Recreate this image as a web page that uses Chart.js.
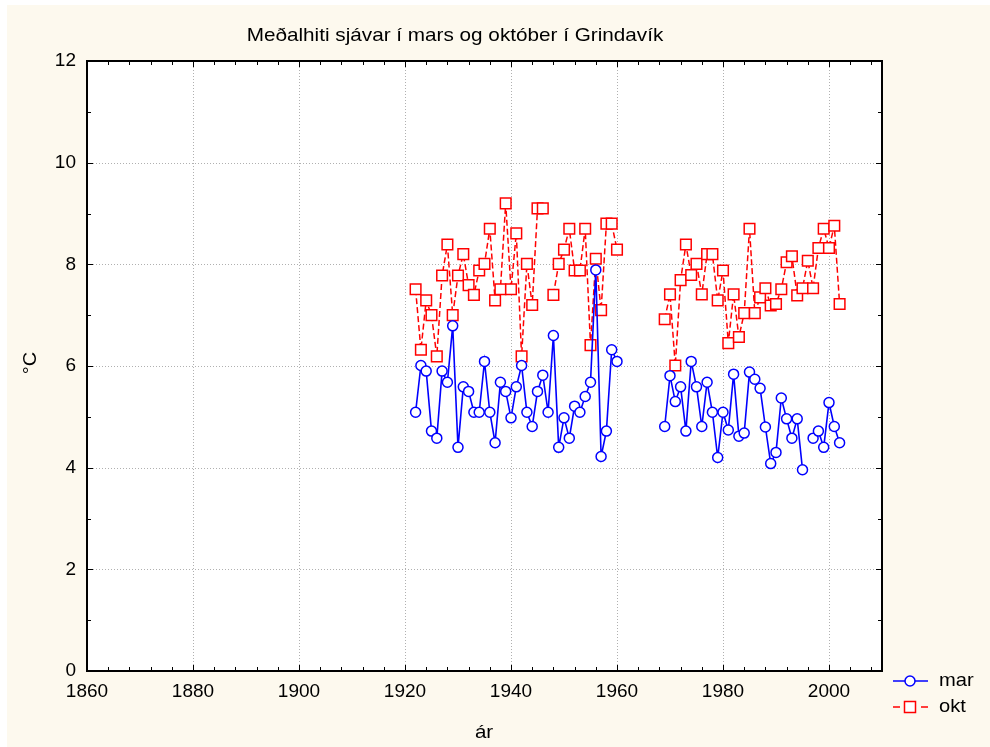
<!DOCTYPE html>
<html><head><meta charset="utf-8">
<script src="https://cdn.jsdelivr.net/npm/chart.js@4.4.1/dist/chart.umd.min.js"></script>
<style>html,body{margin:0;padding:0;background:#fff}canvas{display:block}</style>
</head><body>
<canvas id="c" width="990" height="747"></canvas>
<script>
const titleText = 'Meðalhiti sjávar í mars og október í Grindavík';
const xAxisTitle = 'ár';
const yAxisTitle = '°C';
const seriesNames = ['mar', 'okt'];
const years = [1922,1923,1924,1925,1926,1927,1928,1929,1930,1931,1932,1933,1934,1935,1936,1937,1938,1939,1940,1941,1942,1943,1944,1945,1946,1947,1948,1949,1950,1951,1952,1953,1954,1955,1956,1957,1958,1959,1960,
  1961,1962,1963,1964,1965,1966,1967,1968,
  1969,1970,1971,1972,1973,1974,1975,1976,1977,1978,1979,1980,1981,1982,1983,1984,1985,1986,1987,1988,1989,1990,1991,1992,1993,1994,1995,1996,1997,1998,1999,2000,2001,2002];
const marValues = [5.09,6.01,5.90,4.72,4.58,5.90,5.68,6.79,4.40,5.59,5.50,5.09,5.09,6.09,5.09,4.49,5.68,5.50,4.98,5.59,6.01,5.09,4.81,5.50,5.82,5.09,6.60,4.40,4.98,4.58,5.21,5.09,5.40,5.68,7.89,4.22,4.72,6.32,6.09,
  null,null,null,null,null,null,null,null,
  4.81,5.81,5.30,5.59,4.72,6.09,5.59,4.81,5.68,5.09,4.20,5.09,4.74,5.84,4.62,4.68,5.88,5.74,5.56,4.80,4.08,4.30,5.37,4.96,4.58,4.96,3.96,null,4.58,4.72,4.40,5.28,4.81,4.49];
const oktValues = [7.51,6.32,7.29,7.00,6.19,7.78,8.39,7.00,7.78,8.20,7.59,7.40,7.88,8.01,8.70,7.29,7.51,9.20,7.51,8.61,6.19,8.01,7.20,9.10,9.10,null,7.40,8.01,8.29,8.70,7.88,7.88,8.70,6.41,8.11,7.10,8.80,8.80,8.29,
  null,null,null,null,null,null,null,null,
  6.92,7.41,6.01,7.69,8.39,7.79,8.01,7.41,8.20,8.20,7.29,7.88,6.45,7.41,6.57,7.04,8.70,7.04,7.35,7.53,7.19,7.22,7.51,8.04,8.16,7.39,7.53,8.07,7.53,8.32,8.70,8.32,8.76,7.22];
const xTickValues = [1860,1880,1900,1920,1940,1960,1980,2000];
const yTickValues = [0,2,4,6,8,10,12];

const FONT = "'Liberation Sans', Arial, sans-serif";
Chart.defaults.font.family = FONT;

function stretchedText(ctx, text, x, y, size, sx, align) {
  ctx.save();
  ctx.font = size + 'px ' + FONT;
  ctx.textBaseline = 'middle';
  const w = ctx.measureText(text).width * sx;
  let left = x;
  if (align === 'center') left = x - w / 2;
  ctx.translate(left, y);
  ctx.scale(sx, 1);
  ctx.textAlign = 'left';
  ctx.fillText(text, 0, 0);
  ctx.restore();
}

const decorPlugin = {
  id: 'decor',
  beforeDraw(chart) {
    const { ctx, chartArea: a } = chart;
    const xs = chart.scales.x, ys = chart.scales.y;
    ctx.save();
    ctx.fillStyle = '#ffffff'; ctx.fillRect(0, 0, 990, 747);
    ctx.fillStyle = '#fdf9ee'; ctx.fillRect(7, 5, 983, 742);
    ctx.fillStyle = '#ffffff'; ctx.fillRect(a.left, a.top, a.right - a.left, a.bottom - a.top);
    ctx.strokeStyle = '#b0b0b0'; ctx.lineWidth = 1; ctx.setLineDash([1, 2]);
    xTickValues.forEach(v => {
      const px = Math.round(xs.getPixelForValue(v)) + 0.5;
      if (px > a.left + 3 && px < a.right - 3) { ctx.beginPath(); ctx.moveTo(px, a.top); ctx.lineTo(px, a.bottom); ctx.stroke(); }
    });
    yTickValues.forEach(v => {
      const py = Math.round(ys.getPixelForValue(v)) + 0.5;
      if (py > a.top + 3 && py < a.bottom - 3) { ctx.beginPath(); ctx.moveTo(a.left, py); ctx.lineTo(a.right, py); ctx.stroke(); }
    });
    ctx.restore();
  },
  afterDraw(chart) {
    const { ctx, chartArea: a } = chart;
    const xs = chart.scales.x, ys = chart.scales.y;
    ctx.save();
    // frame
    ctx.strokeStyle = '#000'; ctx.lineWidth = 2; ctx.setLineDash([]);
    ctx.strokeRect(a.left, a.top, a.right - a.left, a.bottom - a.top);
    // tick marks (inward, all sides)
    ctx.lineWidth = 1;
    ctx.beginPath();
    for (let v = 1860; v <= 2010; v += 4) {
      const major = (v - 1860) % 20 === 0;
      const len = major ? 6 : 4;
      const px = Math.round(xs.getPixelForValue(v)) + 0.5;
      if (px <= a.left + 1 || px >= a.right - 1) continue;
      ctx.moveTo(px, a.bottom); ctx.lineTo(px, a.bottom - len);
      ctx.moveTo(px, a.top); ctx.lineTo(px, a.top + len);
    }
    for (let v = 0; v <= 12; v += 1) {
      const major = v % 2 === 0;
      const len = major ? 6 : 4;
      const py = Math.round(ys.getPixelForValue(v)) + 0.5;
      if (py <= a.top + 1 || py >= a.bottom - 1) continue;
      ctx.moveTo(a.left, py); ctx.lineTo(a.left + len, py);
      ctx.moveTo(a.right, py); ctx.lineTo(a.right - len, py);
    }
    ctx.stroke();
    // title & axis titles
    ctx.fillStyle = '#000';
    stretchedText(ctx, titleText, 455, 36, 19, 1.09, 'center');
    stretchedText(ctx, xAxisTitle, 484, 733, 19, 1.08, 'center');
    ctx.save();
    ctx.translate(31, 363);
    ctx.rotate(-Math.PI / 2);
    stretchedText(ctx, yAxisTitle, 0, 0, 19, 1.05, 'center');
    ctx.restore();
    // legend
    const lx0 = 893, lx1 = 928, mx = 910;
    const y1 = 681, y2 = 707;
    ctx.lineWidth = 1.5;
    ctx.strokeStyle = '#0000ff';
    ctx.beginPath(); ctx.moveTo(lx0, y1); ctx.lineTo(lx1, y1); ctx.stroke();
    ctx.fillStyle = '#fff';
    ctx.beginPath(); ctx.arc(mx, y1, 5, 0, Math.PI * 2); ctx.fill(); ctx.stroke();
    ctx.strokeStyle = '#ff0000';
    ctx.beginPath(); ctx.moveTo(lx0, y2); ctx.lineTo(lx0 + 7, y2); ctx.moveTo(lx1 - 7, y2); ctx.lineTo(lx1, y2); ctx.stroke();
    ctx.fillStyle = '#fff';
    ctx.fillRect(mx - 5.5, y2 - 5.5, 11, 11); ctx.strokeRect(mx - 5.5, y2 - 5.5, 11, 11);
    ctx.fillStyle = '#000';
    stretchedText(ctx, seriesNames[0], 939, y1, 19, 1.06, 'left');
    stretchedText(ctx, seriesNames[1], 939, y2, 19, 1.06, 'left');
    ctx.restore();
  }
};

const toPoints = vals => years.map((yr, i) => ({ x: yr, y: vals[i] }));

new Chart(document.getElementById('c'), {
  type: 'line',
  data: {
    datasets: [
      {
        label: seriesNames[0], data: toPoints(marValues),
        borderColor: '#0000ff', borderWidth: 1.6,
        pointStyle: 'circle', pointRadius: 5, pointBorderWidth: 1.5,
        pointBackgroundColor: '#ffffff', pointBorderColor: '#0000ff',
        spanGaps: false, tension: 0
      },
      {
        label: seriesNames[1], data: toPoints(oktValues),
        borderColor: '#ff0000', borderWidth: 1.5, borderDash: [6, 3],
        pointStyle: 'rect', pointRadius: 7.5, pointBorderWidth: 1.5,
        pointBackgroundColor: '#ffffff', pointBorderColor: '#ff0000',
        spanGaps: false, tension: 0
      }
    ]
  },
  options: {
    responsive: false, animation: false, devicePixelRatio: 1,
    layout: { padding: { left: 0, top: 61, right: 108, bottom: 0 } },
    plugins: { legend: { display: false }, title: { display: false }, tooltip: { enabled: false } },
    scales: {
      x: {
        type: 'linear', min: 1860, max: 2010,
        afterBuildTicks: s => { s.ticks = xTickValues.map(v => ({ value: v })); },
        afterFit: s => { s.height = 76; },
        grid: { display: false, drawTicks: false },
        border: { display: false },
        ticks: { color: '#000', font: { size: 19 }, padding: 9, maxRotation: 0, autoSkip: false, callback: v => String(v) }
      },
      y: {
        type: 'linear', min: 0, max: 12,
        afterBuildTicks: s => { s.ticks = yTickValues.map(v => ({ value: v })); },
        afterFit: s => { s.width = 87; },
        grid: { display: false, drawTicks: false },
        border: { display: false },
        ticks: { color: '#000', font: { size: 19 }, padding: 11, autoSkip: false }
      }
    }
  },
  plugins: [decorPlugin]
});
</script>
</body></html>
